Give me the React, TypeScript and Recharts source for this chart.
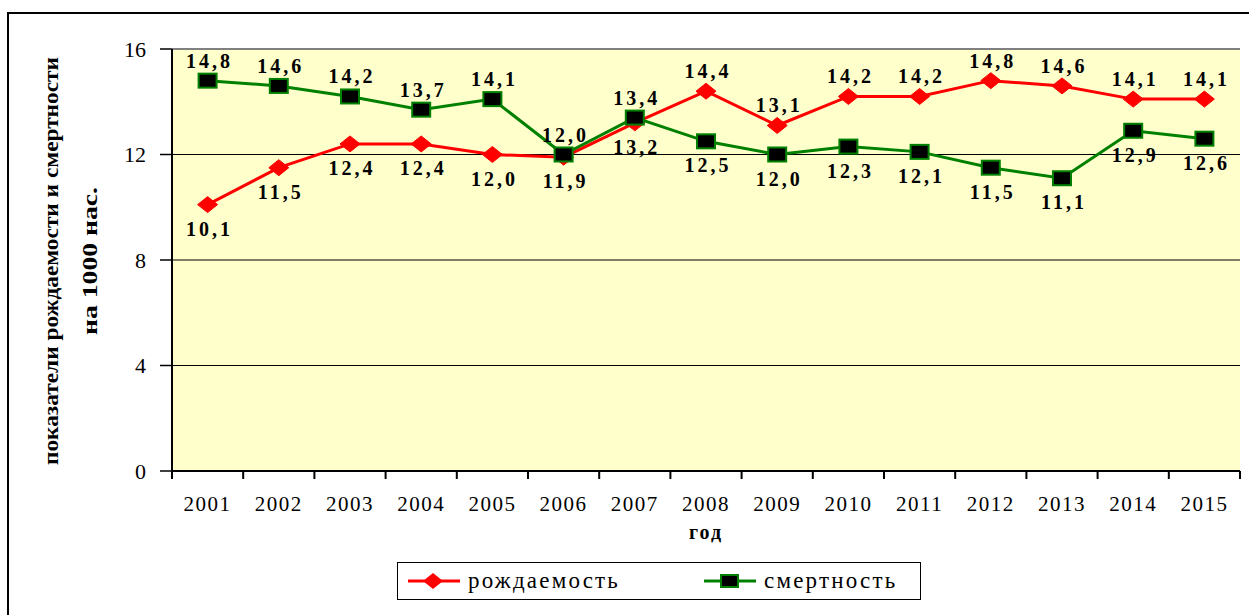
import React from 'react';
import {
  LineChart,
  Line,
  XAxis,
  YAxis,
  CartesianGrid,
  ReferenceLine,
  LabelList,
} from 'recharts';

const years = ['2001', '2002', '2003', '2004', '2005', '2006', '2007', '2008', '2009', '2010', '2011', '2012', '2013', '2014', '2015'];
const birthRate = [10.1, 11.5, 12.4, 12.4, 12.0, 11.9, 13.2, 14.4, 13.1, 14.2, 14.2, 14.8, 14.6, 14.1, 14.1];
const deathRate = [14.8, 14.6, 14.2, 13.7, 14.1, 12.0, 13.4, 12.5, 12.0, 12.3, 12.1, 11.5, 11.1, 12.9, 12.6];
const yTicks = [0, 4, 8, 12, 16];

const data = years.map((year, i) => ({ year, birth: birthRate[i], death: deathRate[i] }));

const FONT = '"Liberation Serif", "Times New Roman", serif';
const RED = '#FF0000';
const GREEN = '#008000';

const fmt = (v: number) => v.toFixed(1).replace('.', ',');

// red labels sit under the line until 2007, green ones above; swapped afterwards
function makeLabel(belowFirst: boolean) {
  return (props: any) => {
    const { x, y, value, index } = props;
    const below = index < 7 ? belowFirst : !belowFirst;
    return (
      <text
        x={x + 2}
        y={below ? y + 31 : y - 13}
        textAnchor="middle"
        fontFamily={FONT}
        fontWeight="bold"
        fontSize={20}
        letterSpacing={3}
        fill="#000"
      >
        {fmt(value)}
      </text>
    );
  };
}

const Diamond = (props: any) => {
  const { cx, cy, index } = props;
  if (cx == null || cy == null) return null;
  return (
    <polygon
      key={`d-${index}`}
      points={`${cx},${cy - 8} ${cx + 10},${cy} ${cx},${cy + 8} ${cx - 10},${cy}`}
      fill={RED}
      stroke={RED}
    />
  );
};

const Square = (props: any) => {
  const { cx, cy, index } = props;
  if (cx == null || cy == null) return null;
  return (
    <rect
      key={`s-${index}`}
      x={cx - 9}
      y={cy - 7}
      width={18}
      height={14}
      fill="#000"
      stroke={GREEN}
      strokeWidth={2}
    />
  );
};

// category label plus Excel-style tick marks on the band edges
const YearTick = (props: any) => {
  const { x, y, payload, index, visibleTicksCount } = props;
  const half = payload.offset || 0;
  const top = y - 10;
  return (
    <g>
      <line x1={x - half} y1={top} x2={x - half} y2={top + 8} stroke="#000" strokeWidth={2} />
      {index === visibleTicksCount - 1 && (
        <line x1={x + half} y1={top} x2={x + half} y2={top + 8} stroke="#000" strokeWidth={2} />
      )}
      <text x={x} y={y + 30} textAnchor="middle" fontFamily={FONT} fontSize={21} letterSpacing={1.5} fill="#000">
        {payload.value}
      </text>
    </g>
  );
};

const YTitle = (props: any) => {
  const { viewBox } = props;
  const cy = viewBox.y + viewBox.height / 2 + 1;
  return (
    <g fontFamily={FONT} fontWeight="bold" fontSize={22} fill="#000">
      <text x={58} y={cy} textAnchor="middle" transform={`rotate(-90 58 ${cy})`} textLength={408} lengthAdjust="spacingAndGlyphs">
        показатели рождаемости и смертности
      </text>
      <text x={97} y={cy} textAnchor="middle" transform={`rotate(-90 97 ${cy})`} textLength={148} lengthAdjust="spacingAndGlyphs">
        на 1000 нас.
      </text>
    </g>
  );
};

const XTitle = (props: any) => {
  const { viewBox } = props;
  return (
    <text
      x={viewBox.x + viewBox.width / 2}
      y={viewBox.y + 68}
      textAnchor="middle"
      fontFamily={FONT}
      fontWeight="bold"
      fontSize={20}
      letterSpacing={2}
      fill="#000"
    >
      год
    </text>
  );
};

function LegendBox() {
  const item = (color: string, marker: React.ReactNode, label: string, w: number) => (
    <div style={{ display: 'flex', alignItems: 'center', width: w }}>
      <svg width={56} height={20}>
        <line x1={2} y1={10} x2={54} y2={10} stroke={color} strokeWidth={3} />
        {marker}
      </svg>
      <span style={{ marginLeft: 6, fontFamily: FONT, fontSize: 23, letterSpacing: 2.2, lineHeight: '24px' }}>{label}</span>
    </div>
  );
  return (
    <div
      style={{
        position: 'absolute',
        left: 397,
        top: 562,
        width: 524,
        height: 38,
        border: '1.5px solid #000',
        background: '#fff',
        display: 'flex',
        alignItems: 'center',
        paddingLeft: 8,
        boxSizing: 'border-box',
      }}
    >
      {item(RED, <polygon points="27,2 37,10 27,18 17,10" fill={RED} />, 'рождаемость', 296)}
      {item(GREEN, <rect x={19} y={4} width={17} height={12} fill="#000" stroke={GREEN} strokeWidth={2} />, 'смертность', 215)}
    </div>
  );
}

export default function App() {
  return (
    <div style={{ position: 'absolute', left: 0, top: 0, width: 1249, height: 615, overflow: 'hidden', background: '#fff' }}>
      <div style={{ position: 'absolute', left: 7, top: 12, width: 1300, height: 700, border: '2px solid #000' }} />
      <div style={{ position: 'absolute', left: 0, top: 0 }}>
        <LineChart width={1249} height={615} data={data} margin={{ top: 49, right: 9, left: 0, bottom: 84 }}>
          <CartesianGrid vertical={false} stroke="#000" strokeWidth={1.2} fill="#FFFFCC" yAxisId="left" />
          <XAxis
            dataKey="year"
            scale="band"
            axisLine={{ stroke: '#000', strokeWidth: 2 }}
            tickLine={false}
            tickSize={8}
            tickMargin={2}
            height={60}
            interval={0}
            tick={<YearTick />}
            label={<XTitle />}
          />
          <YAxis
            yAxisId="left"
            width={172}
            domain={[0, 16]}
            ticks={yTicks}
            interval={0}
            axisLine={{ stroke: '#000', strokeWidth: 2 }}
            tickLine={{ stroke: '#000', strokeWidth: 1.5 }}
            tickSize={12}
            tickMargin={14}
            tick={{ fontFamily: FONT, fontSize: 22, fill: '#000' }}
            label={<YTitle />}
          />
          <YAxis
            yAxisId="right"
            orientation="right"
            width={0}
            domain={[0, 16]}
            tick={false}
            tickLine={false}
            axisLine={{ stroke: '#808080', strokeWidth: 2 }}
          />
          <ReferenceLine yAxisId="left" y={16} stroke="#808080" strokeWidth={2} />
          <Line
            yAxisId="left"
            dataKey="birth"
            stroke={RED}
            strokeWidth={3}
            dot={<Diamond />}
            activeDot={false}
            isAnimationActive={false}
          >
            <LabelList dataKey="birth" content={makeLabel(true)} />
          </Line>
          <Line
            yAxisId="left"
            dataKey="death"
            stroke={GREEN}
            strokeWidth={3}
            dot={<Square />}
            activeDot={false}
            isAnimationActive={false}
          >
            <LabelList dataKey="death" content={makeLabel(false)} />
          </Line>
        </LineChart>
      </div>
      <LegendBox />
    </div>
  );
}
